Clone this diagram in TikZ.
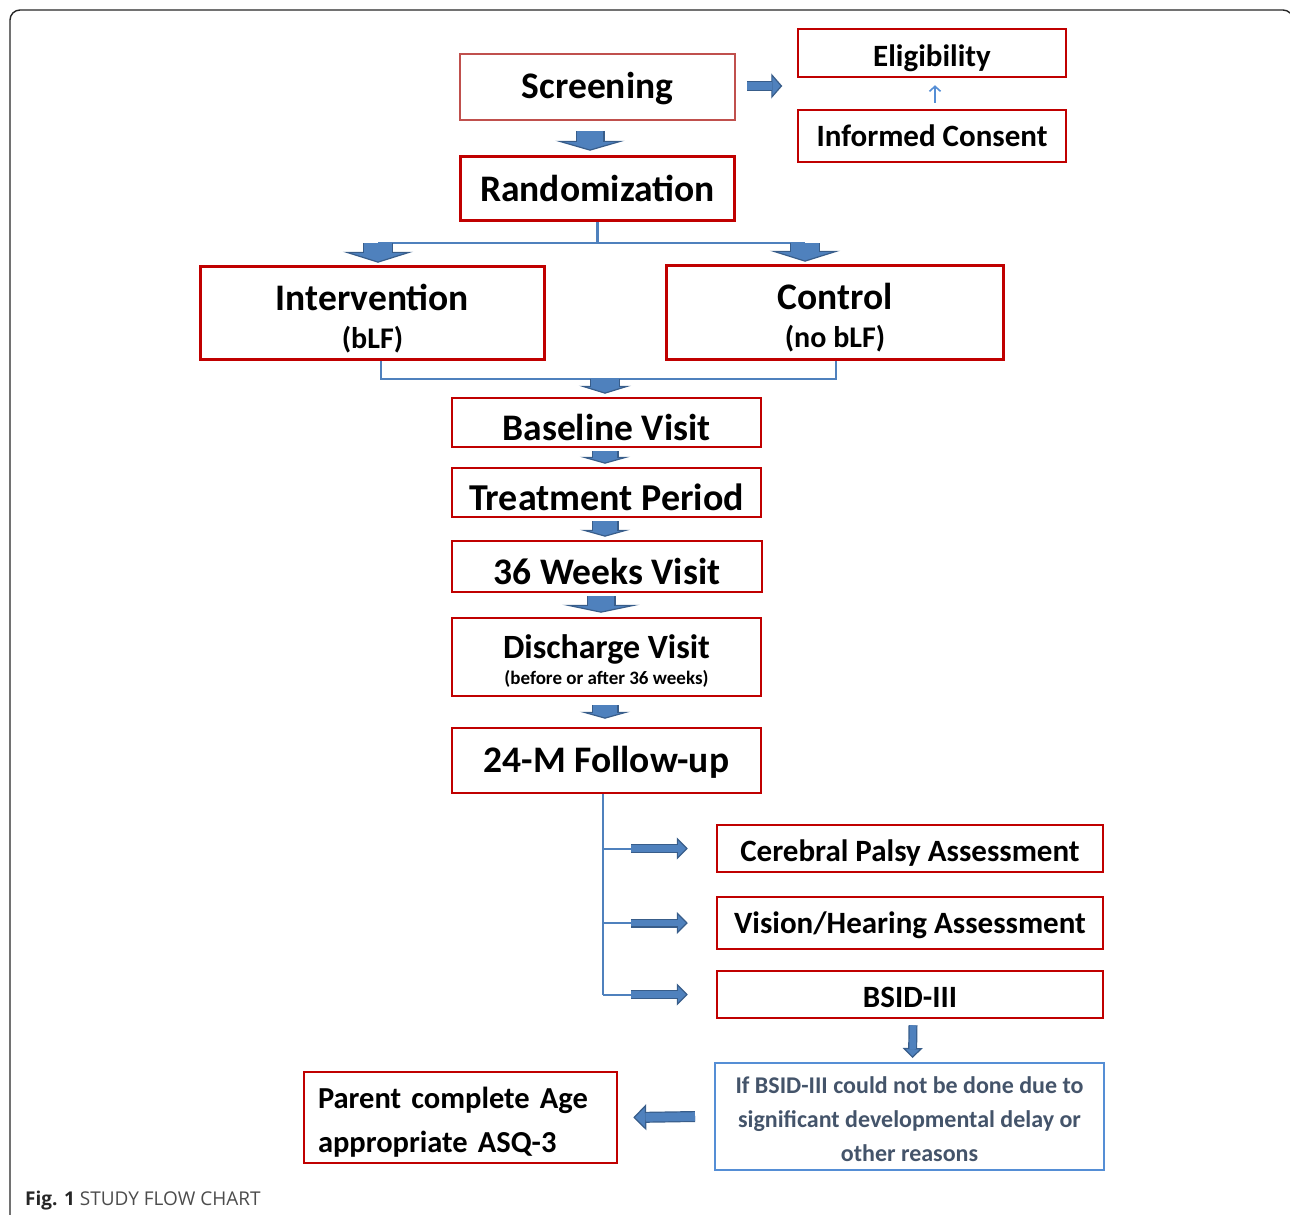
\documentclass[tikz,border=0pt]{standalone}
\usepackage{fontspec}
\setmainfont{Carlito}
\newfontfamily\capfont{Open Sans}
\usetikzlibrary{arrows.meta, positioning, calc}

\definecolor{boxred}{RGB}{192,0,0}
\definecolor{softred}{RGB}{192,80,77}
\definecolor{linkblue}{RGB}{79,129,189}
\definecolor{arrowfill}{RGB}{79,129,189}
\definecolor{arrowline}{RGB}{56,93,138}
\definecolor{notebox}{RGB}{85,142,213}
\definecolor{notetext}{RGB}{68,84,106}

% text sits a little low in the boxes
\newcommand\sink[2][5pt]{\raisebox{-#1}[\height][\depth]{#2}}

\begin{document}
\begin{tikzpicture}[
  x=1pt, y=-1pt,
  box/.style   ={draw=boxred, line width=2.5pt, align=center, inner sep=0pt},
  heavy/.style ={box, line width=3.5pt},
  tbig/.style  ={font=\fontsize{37.5}{40}\selectfont\bfseries},
  tmid/.style  ={font=\fontsize{31}{36}\selectfont\bfseries},
  link/.style  ={draw=linkblue, line width=2.5pt},
  thinarr/.style={draw=notebox, line width=1.6pt, -{Straight Barb[length=5pt, width=11pt]}},
  blk/.style n args={3}{draw=arrowline, line width=#1,
    -{Triangle[length=#3, width=#2, line width=1.2pt, fill=arrowfill]},
    postaction={draw=arrowfill, line width=#1-2.4pt, arrows={-}, shorten >=#3-0.8pt}},
]
  \useasboundingbox (0,0) rectangle (1290,1215);
  % frame
  \draw[line width=1.4pt, black!85, rounded corners=10pt] (10,1240) -- (10,10) -- (1293,10) -- (1293,1240);

  % top part
  \node[box, draw=softred, tbig, minimum width=275pt, minimum height=66pt] (scr)  at (597.5,87)  {\sink[2pt]{Screening}};
  \node[heavy, tbig, minimum width=274pt, minimum height=64pt]             (rand) at (597.5,188.5) {Randomization};
  \node[box, tmid, minimum width=268pt, minimum height=48pt]               (elig) at (932,53)    {\sink{Eligibility}};
  \node[box, tmid, minimum width=268pt, minimum height=52pt]               (cons) at (932,136)   {Informed Consent};

  \node[heavy, minimum width=344pt, minimum height=93pt, font=\fontsize{30}{38}\selectfont\bfseries] (interv) at (372.5,313)
    {\sink[6pt]{\fontsize{37.5}{38}\selectfont Intervention}\\\sink[6pt]{(bLF)}};
  \node[heavy, minimum width=337pt, minimum height=94pt, font=\fontsize{30}{38}\selectfont\bfseries] (ctrl) at (835,312.5)
    {\sink[5pt]{\fontsize{37.5}{38}\selectfont Control}\\\sink[5pt]{(no bLF)}};

  % visits
  \node[box, tbig, minimum width=309pt, minimum height=49pt] (base)  at (606.5,422.5) {\sink{Baseline Visit}};
  \node[box, tbig, minimum width=309pt, minimum height=49pt] (treat) at (606.5,492.5) {\sink{\fontsize{38}{40}\selectfont Treatment Period}};
  \node[box, tbig, minimum width=310pt, minimum height=51pt] (wk36)  at (607,566.5)   {\sink{36 Weeks Visit}};
  \node[box, minimum width=309pt, minimum height=78pt, font=\fontsize{19}{28}\selectfont\bfseries] (disch) at (606.5,657)
    {\sink{\fontsize{34}{28}\selectfont Discharge Visit}\\\sink[3pt]{(before or after 36 weeks)}};
  \node[box, tbig, minimum width=309pt, minimum height=65pt] (fu)    at (606.5,760.5) {\sink[2pt]{24-M Follow-up}};

  % assessments
  \node[box, tmid, minimum width=386pt, minimum height=47pt] (cp)   at (910,848.5) {\sink{Cerebral Palsy Assessment}};
  \node[box, tmid, minimum width=386pt, minimum height=52pt] (vh)   at (910,923)   {\sink[2pt]{Vision/Hearing Assessment}};
  \node[box, tmid, minimum width=386pt, minimum height=47pt] (bsid) at (910,994.5) {\sink[3pt]{BSID-III}};
  \node[box, draw=notebox, line width=2pt, minimum width=389pt, minimum height=107pt, text=notetext,
        font=\fontsize{24}{34}\selectfont\bfseries] (note) at (909.5,1116.5)
    {\sink[3pt]{If BSID-III could not be done due to}\\\sink[3pt]{significant developmental delay or}\\\sink[3pt]{other reasons}};
  \node[box, minimum height=91pt, text width=285pt, inner xsep=14pt, align=left,
        font=\fontsize{30.5}{44}\selectfont\bfseries] (parent) at (460.5,1117.5)
    {\sink{Parent complete Age}\\\sink{appropriate ASQ-3}};

  % connectors
  \draw[blk={29pt}{69pt}{10pt}] ([xshift=-7.5pt,yshift=-9.5pt]scr.south) -- ([xshift=-7.5pt,yshift=4pt]rand.north);
  \draw[blk={10pt}{25pt}{11pt}] ([xshift=11pt,yshift=1pt]scr.east) -- ($(scr.east -| elig.west)+(-14.5,-1)$);
  \draw[thinarr] ([xshift=3pt,yshift=6pt]cons.north) -- ([xshift=3pt,yshift=-7pt]elig.south);

  \coordinate (splitL) at (378,243);
  \coordinate (splitR) at (805,243);
  \draw[link] (rand.south) -- (rand.south |- splitL);
  \draw[link] (splitL) -- (splitR);
  \draw[blk={30pt}{70pt}{11pt}] (splitL) -- ($(interv.north -| splitL)+(0,-2)$);
  \draw[blk={30pt}{70pt}{11pt}] (splitR) -- ($(ctrl.north -| splitR)+(0,-2)$);

  \coordinate (joinL) at (381,379);
  \coordinate (joinR) at (836,379);
  \coordinate (joinM) at (605,379);
  \draw[link] (interv.south -| joinL) -- (joinL) -- (joinR) -- (ctrl.south -| joinR);
  \draw[blk={30pt}{52pt}{8pt}] (joinM) -- ($(base.north -| joinM)+(0,-3)$);

  \draw[blk={27pt}{50pt}{7pt}] ($(base.south)+(-1.5,3)$)  -- ($(treat.north)+(-1.5,-3)$);
  \draw[blk={27pt}{50pt}{7pt}] ($(treat.south)+(-1.5,3)$) -- ($(wk36.north)+(-2,-3)$);
  \draw[blk={29pt}{77pt}{8pt}] ($(wk36.south)+(-6,3)$)    -- ($(disch.north)+(-5.5,-4)$);
  \draw[blk={27pt}{50pt}{7pt}] ($(disch.south)+(-1.5,8)$) -- ($(fu.north)+(-1.5,-8)$);

  \coordinate (trunk) at (603,0);
  \coordinate (stub)  at (640,0);
  \draw[link, line width=2pt] (fu.south -| trunk) -- (trunk |- bsid);
  \foreach \b in {cp,vh,bsid}{
    \draw[link, line width=2pt] (trunk |- \b) -- (stub |- \b);
    \draw[blk={9pt}{22pt}{11pt}] ($(\b.west)+(-85,0)$) -- ($(\b.west)+(-28,0)$);
  }

  \draw[blk={9pt}{20pt}{10pt}]  ($(bsid.south)+(3,6)$) -- ($(note.north)+(3,-4)$);
  \draw[blk={11pt}{26pt}{13pt}] ($(note.west)+(-19,0)$) -- ($(parent.east)+(15,0)$);

  % caption
  \node[anchor=base west, inner sep=0pt, font=\capfont\fontsize{19}{22}\selectfont] (cap) at (25,1205)
    {\textcolor{black!85}{\textbf{Fig. 1}} \textcolor{black!70}{STUDY FLOW CHART}};
\end{tikzpicture}
\end{document}
